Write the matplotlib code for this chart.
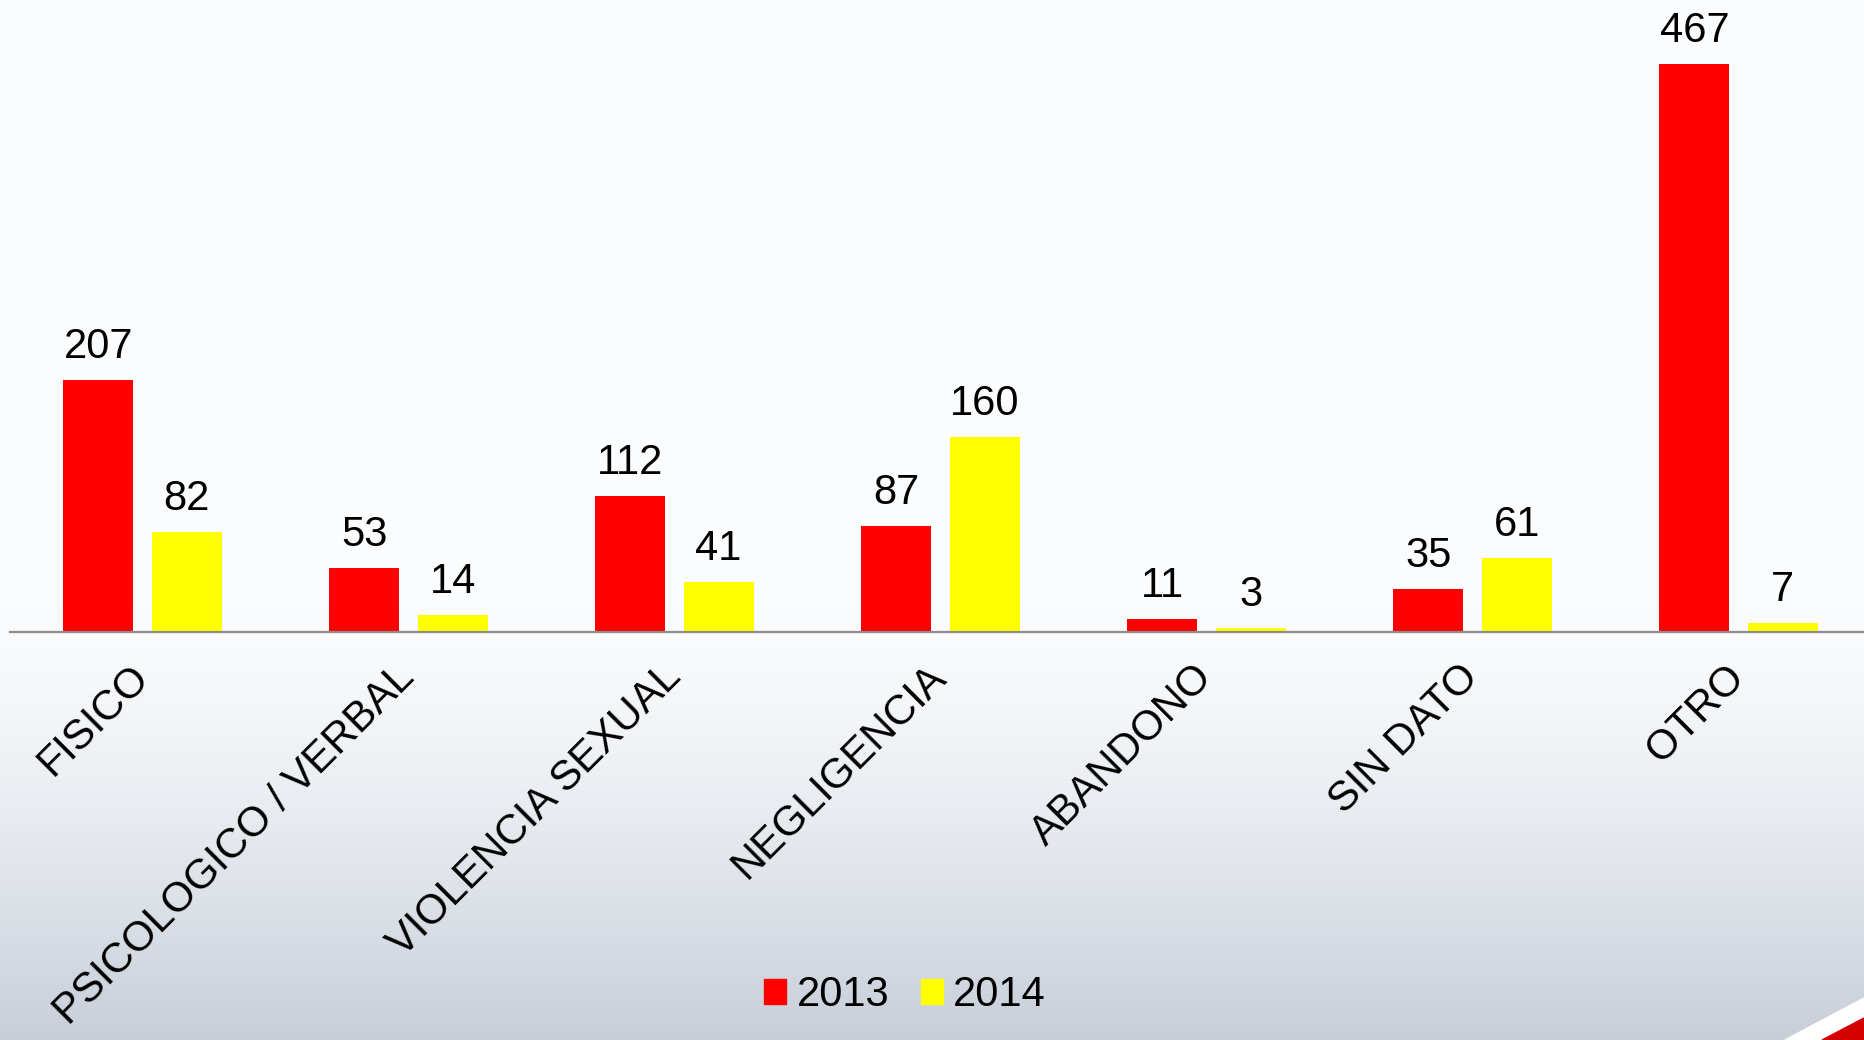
import matplotlib
matplotlib.use("Agg")
import matplotlib.pyplot as plt
import numpy as np
from matplotlib.patches import Patch, Polygon

plt.rcParams["font.family"] = ["Liberation Sans", "DejaVu Sans"]

# Data
categories = ["FISICO", "PSICOLOGICO / VERBAL", "VIOLENCIA SEXUAL",
              "NEGLIGENCIA", "ABANDONO", "SIN DATO", "OTRO"]
values_2013 = [207, 53, 112, 87, 11, 35, 467]
values_2014 = [82, 14, 41, 160, 3, 61, 7]
series_labels = ["2013", "2014"]
series_colors = ["#ff0000", "#ffff00"]

W, H = 1864, 1040
fig = plt.figure(figsize=(W / 100, H / 100), dpi=100)

# Slide-like background gradient
bg = fig.add_axes([0, 0, 1, 1], zorder=-10)
t = np.linspace(0, 1, 400)[:, None]
shade = np.clip((t - 0.55) / 0.45, 0, 1) ** 1.5
top = np.array([0.988, 0.992, 0.996])
bottom = np.array([0.78, 0.81, 0.85])
img = top + (bottom - top) * shade[..., None]
img = np.repeat(img, 2, axis=1)
bg.imshow(img, aspect="auto", extent=[0, 1, 0, 1], origin="upper")
bg.add_patch(Polygon([(1785 / W, 0), (1, 42 / H), (1, 0)],
                     closed=True, color="white", transform=bg.transAxes))
bg.add_patch(Polygon([(1822 / W, 0), (1, 22 / H), (1, 0)],
                     closed=True, color="#d40000", transform=bg.transAxes))
bg.set_xlim(0, 1)
bg.set_ylim(0, 1)
bg.axis("off")

# Chart area
ax = fig.add_axes([9.5 / W, (H - 632) / H, 1862 / W, 632 / H])
ax.patch.set_alpha(0)

x = np.arange(len(categories))
bar_w = 0.264
off = 0.166
bars_a = ax.bar(x - off, values_2013, bar_w, color=series_colors[0])
bars_b = ax.bar(x + off, values_2014, bar_w, color=series_colors[1])

for bars, vals in [(bars_a, values_2013), (bars_b, values_2014)]:
    for b, v in zip(bars, vals):
        ax.annotate(str(v), (b.get_x() + b.get_width() / 2, v),
                    xytext=(0, 22), textcoords="offset pixels",
                    ha="center", va="baseline", fontsize=30)

ax.set_xlim(-0.5, len(categories) - 0.5)
ax.set_ylim(0, 632 / (568 / 467))
ax.set_yticks([])
for s in ["top", "left", "right"]:
    ax.spines[s].set_visible(False)
ax.spines["bottom"].set_color("#8c8c8c")
ax.spines["bottom"].set_linewidth(1.6)

ax.set_xticks(x)
ax.set_xticklabels(categories, fontsize=30)
ax.tick_params(axis="x", length=0, pad=28)
plt.setp(ax.get_xticklabels(), rotation=45, ha="right", va="center",
         rotation_mode="anchor")

handles = [Patch(color=c, label=l) for c, l in zip(series_colors, series_labels)]
fig.legend(handles=handles, loc="center", bbox_to_anchor=(905 / W, 1 - 995 / H),
           ncol=2, frameon=False, fontsize=30, handlelength=0.53,
           handleheight=0.53, handletextpad=0.25, columnspacing=0.75)

fig.savefig("out.png", dpi=100)
